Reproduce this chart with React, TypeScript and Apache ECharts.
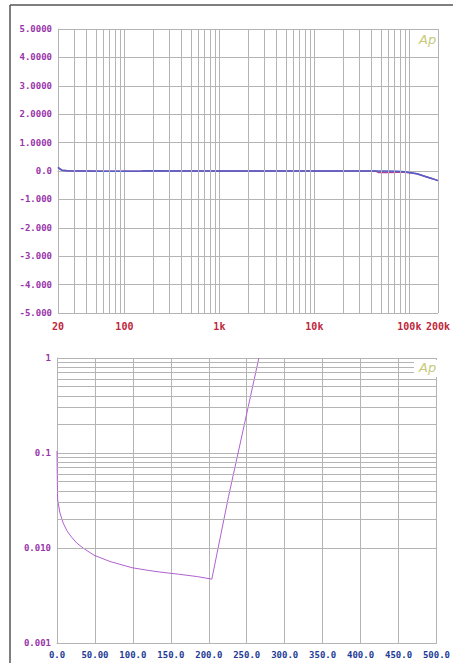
import React, { useEffect, useRef } from 'react';
import * as echarts from 'echarts';

// Top panel: frequency response (dB) vs frequency (Hz)
const freqHz = [20, 21, 22, 25, 30, 40, 60, 100, 150, 200, 300, 500, 1000, 2000, 5000, 10000, 20000, 40000, 45000, 47000, 60000, 76000, 90000, 100000, 120000, 150000, 175000, 200000];
const responseBlue = [0.13, 0.07, 0.03, 0.01, 0, 0, -0.01, -0.01, 0, 0.01, 0, 0, 0, 0, 0, 0, 0, 0, 0, 0, 0, -0.01, -0.03, -0.05, -0.1, -0.2, -0.27, -0.34];
const responsePink = [0.13, 0.07, 0.03, 0.01, 0, 0, -0.01, -0.01, 0, 0.01, 0, 0, 0, 0, 0, 0, 0, 0, -0.01, -0.05, -0.05, -0.04, -0.04, -0.06, -0.1, -0.2, -0.27, -0.34];
const freqTickLabels: Record<number, string> = { 20: '20', 100: '100', 1000: '1k', 10000: '10k', 100000: '100k', 200000: '200k' };

// Bottom panel: THD+N (%) vs output power (W)
const powerW = [0, 0.4, 0.9, 3.9, 8.2, 13, 19.2, 26, 34.3, 48.7, 70, 98.8, 121, 134.5, 160, 185, 204, 226, 252, 266];
const thdPct = [0.105, 0.052, 0.032, 0.0233, 0.0183, 0.0152, 0.013, 0.0113, 0.01, 0.0084, 0.0072, 0.0062, 0.0058, 0.0056, 0.0053, 0.005, 0.0047, 0.0347, 0.307, 1.0];
const thdTickLabels: Record<number, string> = { 0: '1', [-1]: '0.1', [-2]: '0.010', [-3]: '0.001' };

const GRID = '#b4b4b4';
const PURPLE = '#9933aa';
const RED = '#c0283c';
const BLUE = '#1e3c96';
const MONO = '"DejaVu Sans Mono", monospace';

function minorLogValues(startExp: number, endExp: number, lo: number, hi: number): number[] {
  const out: number[] = [];
  for (let e = startExp; e <= endExp; e++) {
    for (let m = 2; m <= 9; m++) {
      const v = m * Math.pow(10, e);
      if (v > lo && v < hi) out.push(v);
    }
  }
  return out;
}

export default function App() {
  const ref = useRef<HTMLDivElement>(null);
  useEffect(() => {
    if (!ref.current) return;
    const chart = echarts.init(ref.current, null, { renderer: 'svg' });
    const minorFreq = minorLogValues(1, 5, 20, 200000).filter((v) => v !== 100 && v !== 1000);
    const minorThd = minorLogValues(-3, -1, 0.001, 1);
    const gridLineStyle = { color: GRID, width: 1, type: 'solid' as const };
    const option: any = {
      animation: false,
      backgroundColor: '#ffffff',
      grid: [
        { left: 58, top: 29, width: 383, height: 284 },
        { left: 57, top: 358, width: 383, height: 285 },
      ],
      xAxis: [
        {
          type: 'log',
          gridIndex: 0,
          min: 20,
          max: 200000,
          logBase: 10,
          axisLine: { show: true, lineStyle: { color: GRID } },
          axisTick: { show: false },
          splitLine: { show: true, lineStyle: gridLineStyle },
          axisLabel: {
            color: RED,
            fontFamily: MONO,
            fontWeight: 'bold',
            fontSize: 10,
            margin: 8,
            showMinLabel: true,
            showMaxLabel: true,
            hideOverlap: false,
            formatter: (v: number) => {
              const r = Math.round(v);
              return freqTickLabels[r] ?? '';
            },
          },
        },
        {
          type: 'value',
          gridIndex: 1,
          min: 0,
          max: 500,
          interval: 50,
          axisLine: { show: true, lineStyle: { color: GRID } },
          axisTick: { show: false },
          splitLine: { show: true, lineStyle: gridLineStyle },
          axisLabel: {
            color: BLUE,
            fontFamily: MONO,
            fontWeight: 'bold',
            fontSize: 9,
            margin: 7,
            showMinLabel: true,
            showMaxLabel: true,
            hideOverlap: false,
            formatter: (v: number) => (v === 0 ? '0.0' : v < 100 ? v.toFixed(2) : v.toFixed(1)),
          },
        },
      ],
      yAxis: [
        {
          type: 'value',
          gridIndex: 0,
          min: -5,
          max: 5,
          interval: 1,
          axisLine: { show: true, lineStyle: { color: GRID } },
          axisTick: { show: false },
          splitLine: { show: true, lineStyle: gridLineStyle },
          axisLabel: {
            color: PURPLE,
            fontFamily: MONO,
            fontWeight: 'bold',
            fontSize: 9,
            margin: 6,
            formatter: (v: number) => (Math.abs(v) < 1e-9 ? '0.0' : v > 0 ? v.toFixed(4) : v.toFixed(3)),
          },
        },
        {
          type: 'log',
          gridIndex: 1,
          min: 0.001,
          max: 1,
          logBase: 10,
          axisLine: { show: true, lineStyle: { color: GRID } },
          axisTick: { show: false },
          splitLine: { show: true, lineStyle: gridLineStyle },
          axisLabel: {
            color: PURPLE,
            fontFamily: MONO,
            fontWeight: 'bold',
            fontSize: 9,
            margin: 6,
            showMinLabel: true,
            showMaxLabel: true,
            formatter: (v: number) => thdTickLabels[Math.round(Math.log10(v))] ?? '',
          },
        },
      ],
      series: [
        {
          type: 'line',
          xAxisIndex: 0,
          yAxisIndex: 0,
          data: [],
          z: 1,
          silent: true,
          markLine: {
            silent: true,
            symbol: 'none',
            label: { show: false },
            lineStyle: gridLineStyle,
            emphasis: { disabled: true },
            data: minorFreq.map((f) => ({ xAxis: f })),
          },
        },
        {
          type: 'line',
          xAxisIndex: 1,
          yAxisIndex: 1,
          data: [],
          z: 1,
          silent: true,
          markLine: {
            silent: true,
            symbol: 'none',
            label: { show: false },
            lineStyle: gridLineStyle,
            emphasis: { disabled: true },
            data: minorThd.map((t) => ({ yAxis: t })),
          },
        },
        {
          type: 'line',
          xAxisIndex: 0,
          yAxisIndex: 0,
          z: 3,
          symbol: 'none',
          lineStyle: { color: '#b0409a', width: 1.5 },
          data: freqHz.map((f, i) => [f, responsePink[i]]),
        },
        {
          type: 'line',
          xAxisIndex: 0,
          yAxisIndex: 0,
          z: 4,
          symbol: 'none',
          lineStyle: { color: '#5060c8', width: 1.5 },
          data: freqHz.map((f, i) => [f, responseBlue[i]]),
        },
        {
          type: 'line',
          xAxisIndex: 1,
          yAxisIndex: 1,
          z: 3,
          symbol: 'none',
          lineStyle: { color: '#b060d0', width: 1 },
          data: powerW.map((p, i) => [p, thdPct[i]]),
        },
      ],
      graphic: [
        { type: 'line', z: 20, shape: { x1: 10, y1: 5, x2: 453, y2: 5 }, style: { stroke: '#555555', lineWidth: 1.5 } },
        { type: 'line', z: 20, shape: { x1: 10, y1: 5, x2: 10, y2: 663 }, style: { stroke: '#555555', lineWidth: 1.5 } },
        {
          type: 'text',
          z: 20,
          x: 419,
          y: 33,
          style: { text: 'Ap', fill: '#c8c878', font: 'italic 13px "DejaVu Sans", sans-serif' },
        },
        { type: 'rect', z: 19, shape: { x: 414, y: 360, width: 25.5, height: 17 }, style: { fill: '#ffffff' } },
        {
          type: 'text',
          z: 20,
          x: 419,
          y: 361,
          style: { text: 'Ap', fill: '#c8c878', font: 'italic 13px "DejaVu Sans", sans-serif' },
        },
      ],
    };
    chart.setOption(option);
    return () => chart.dispose();
  }, []);
  return <div ref={ref} style={{ position: 'absolute', left: 0, top: 0, width: 453, height: 663 }} />;
}
